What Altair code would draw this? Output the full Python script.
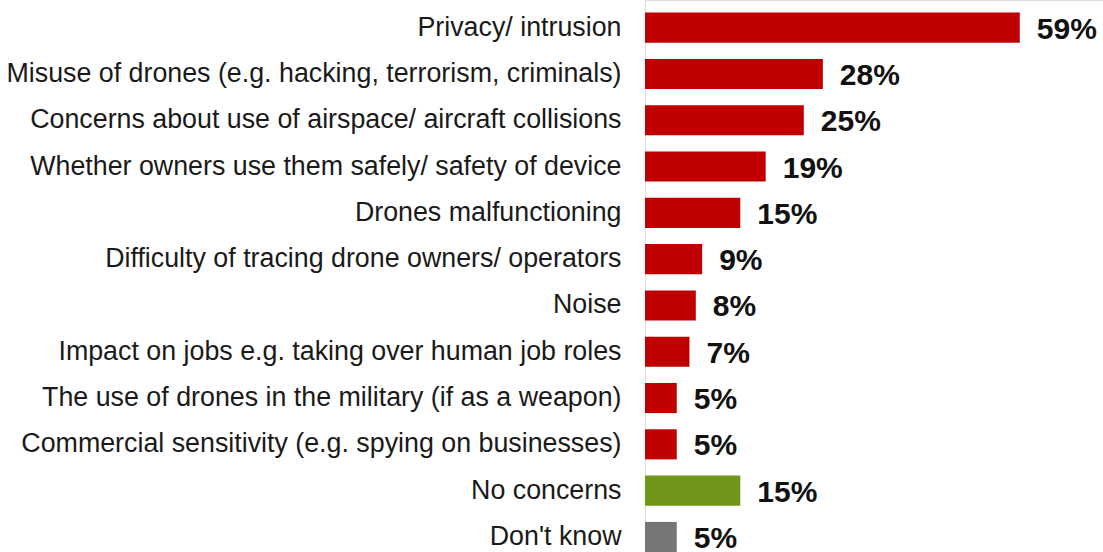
import altair as alt
import pandas as pd

categories = [
    "Privacy/ intrusion",
    "Misuse of drones (e.g. hacking, terrorism, criminals)",
    "Concerns about use of airspace/ aircraft collisions",
    "Whether owners use them safely/ safety of device",
    "Drones malfunctioning",
    "Difficulty of tracing drone owners/ operators",
    "Noise",
    "Impact on jobs e.g. taking over human job roles",
    "The use of drones in the military (if as a weapon)",
    "Commercial sensitivity (e.g. spying on businesses)",
    "No concerns",
    "Don't know",
]
values = [59, 28, 25, 19, 15, 9, 8, 7, 5, 5, 15, 5]
groups = ["concern"] * 10 + ["none", "dk"]
group_colors = ["#C00000", "#70961C", "#767676"]

df = pd.DataFrame({"category": categories, "value": values, "group": groups})
df["label"] = df["value"].astype(str) + "%"

y = alt.Y(
    "category:N",
    sort=categories,
    title=None,
    scale=alt.Scale(paddingInner=0.35, paddingOuter=0.136, align=1),
    axis=alt.Axis(
        labelFont="Liberation Sans",
        labelFontSize=26.8,
        labelColor="#1a1a1a",
        labelPadding=24,
        labelLimit=0,
        ticks=False,
        domainColor="#dddddd",
        domainWidth=1,
    ),
)
x = alt.X("value:Q", title=None, scale=alt.Scale(domain=[0, 72.1]), axis=None)

bars = alt.Chart(df).mark_bar().encode(
    x=x,
    y=y,
    color=alt.Color(
        "group:N",
        scale=alt.Scale(domain=["concern", "none", "dk"], range=group_colors),
        legend=None,
    ),
)

text = alt.Chart(df).mark_text(
    align="left",
    baseline="middle",
    dx=17,
    dy=2,
    font="Liberation Sans",
    fontSize=30,
    fontWeight="bold",
    color="#111111",
).encode(x=x, y=alt.Y("category:N", sort=categories), text="label:N")

chart = (
    alt.layer(bars, text)
    .properties(
        width=458,
        height=552,
        autosize=alt.AutoSizeParams(type="none"),
        padding={"left": 645, "top": 0, "right": 0, "bottom": 0},
    )
    .configure_view(stroke=None)
    .configure(background="white")
)

chart.save("out.html", embed_options={"renderer": "svg", "actions": False})
